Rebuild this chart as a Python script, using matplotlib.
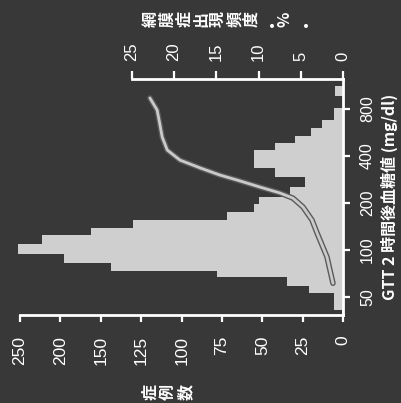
import numpy as np
import matplotlib
matplotlib.use('Agg')
import matplotlib.pyplot as plt
import matplotlib.patheffects as pe
from matplotlib.ticker import FixedLocator, NullLocator, FixedFormatter

# ---- data ----
bin_edges = [38.2, 41.1, 52.6, 58.5, 67.1, 73.3, 82.5, 93.8, 108.8, 124, 137.6,
             155, 175, 196, 218, 253, 294, 332, 435, 483, 532, 600, 680, 804,
             962, 1113]
counts = [1, 6, 21, 35, 78, 144, 196, 253, 223, 162, 130, 72, 55, 52, 33, 24,
          42, 55, 42, 30, 20, 13, 6, 0, 5]
curve_glucose = [61, 90, 128, 155, 188, 214, 231, 252, 280, 301, 334, 375, 435,
                 527, 648, 785, 937]
curve_freq = [1.22, 1.93, 3.1, 3.7, 4.77, 5.95, 7.5, 9.85, 12.6, 14.6, 16.9,
              19.3, 20.8, 21.4, 21.7, 22.0, 22.85]
count_ticks = [0, 25, 50, 75, 100, 125, 150, 200, 250]
glucose_ticks = [50, 100, 200, 400, 800]
freq_ticks = [0, 5, 10, 15, 20, 25]
xlabel_text = "GTT 2 時間後血糖値 (mg/dl)"
count_label = "症例数"
freq_label = "網膜症出現頻度・%・"

BG = '#383838'
BAR = '#cfcfcf'
W, H = 401, 403

plt.rcParams['font.family'] = ['Liberation Sans', 'Noto Sans CJK JP', 'DejaVu Sans']

fig = plt.figure(figsize=(W / 100, H / 100), dpi=100, facecolor=BG)
ax = fig.add_axes([20 / W, 88 / H, 323.3 / W, 236 / H])
ax.set_facecolor(BG)


def fwd(x):
    x = np.asarray(x, dtype=float)
    return np.where(x <= 150, x, 150 + (x - 150) / 2.0)


def inv(y):
    y = np.asarray(y, dtype=float)
    return np.where(y <= 150, y, 150 + (y - 150) * 2.0)


ax.set_xscale('function', functions=(fwd, inv))
ax.set_yscale('log')

edges = np.array(bin_edges)
ax.barh(edges[:-1], counts, height=np.diff(edges), align='edge',
        color=BAR, edgecolor='none', clip_on=False, zorder=1)

ax.set_xlim(250, 0)
ax.set_ylim(38.2, 1240)

ax.xaxis.set_major_locator(FixedLocator(count_ticks))
ax.xaxis.set_major_formatter(FixedFormatter([str(t) for t in count_ticks]))
ax.xaxis.set_minor_locator(NullLocator())
ax.yaxis.set_major_locator(FixedLocator(glucose_ticks))
ax.yaxis.set_major_formatter(FixedFormatter([str(t) for t in glucose_ticks]))
ax.yaxis.set_minor_locator(NullLocator())

for s in ['top', 'left']:
    ax.spines[s].set_visible(False)
for s in ['bottom', 'right']:
    ax.spines[s].set_color('white')
    ax.spines[s].set_linewidth(2)

ax.tick_params(axis='x', which='major', bottom=True, top=False, direction='out',
               length=5, width=1.6, colors='white', labelsize=12.5, pad=10,
               labelrotation=90)
ax.tick_params(axis='y', which='major', left=False, right=True, labelleft=False,
               labelright=True, direction='out', length=5, width=1.6,
               colors='white', labelsize=11.5, pad=7, labelrotation=90)
for lbl in ax.get_yticklabels():
    lbl.set_va('center')

# frequency axis (top)
ax2 = ax.twiny()
ax2.set_xlim(38.2, 0)
ax2.plot(curve_freq, curve_glucose, color='#cacaca', lw=2.0, zorder=3,
         solid_capstyle='round',
         path_effects=[pe.Stroke(linewidth=4.0, foreground='#5a5a5a'), pe.Normal()])
ax2.xaxis.set_major_locator(FixedLocator(freq_ticks))
ax2.xaxis.set_minor_locator(NullLocator())
for s in ['bottom', 'left', 'right']:
    ax2.spines[s].set_visible(False)
ax2.spines['top'].set_color('white')
ax2.spines['top'].set_linewidth(2)
ax2.spines['top'].set_bounds(0, 25)
ax2.tick_params(axis='x', which='major', top=True, bottom=False, direction='out',
                length=6, width=1.6, colors='white', labelsize=12, pad=7,
                labelrotation=90)

# axis titles
fig.text(389 / W, 1 - 197 / H, xlabel_text, rotation=90, ha='center', va='center',
         color='white', fontsize=11.5, fontweight='bold',
         family=['Noto Sans CJK JP', 'Liberation Sans'])

fx = np.linspace(151, 301.7, len(freq_label))
for ch, x in zip(freq_label, fx):
    fig.text(x / W, 1 - 19 / H, ch, rotation=90, ha='center', va='center',
             color='white', fontsize=11.5, fontweight='bold',
             family=['Noto Sans CJK JP', 'Liberation Sans'])

cx = np.linspace(150, 186, len(count_label))
for ch, x in zip(count_label, cx):
    fig.text(x / W, 1 - 391.5 / H, ch, rotation=90, ha='center', va='center',
             color='white', fontsize=11.5, fontweight='bold',
             family=['Noto Sans CJK JP', 'Liberation Sans'])

fig.savefig('out.png', dpi=100, facecolor=BG)
